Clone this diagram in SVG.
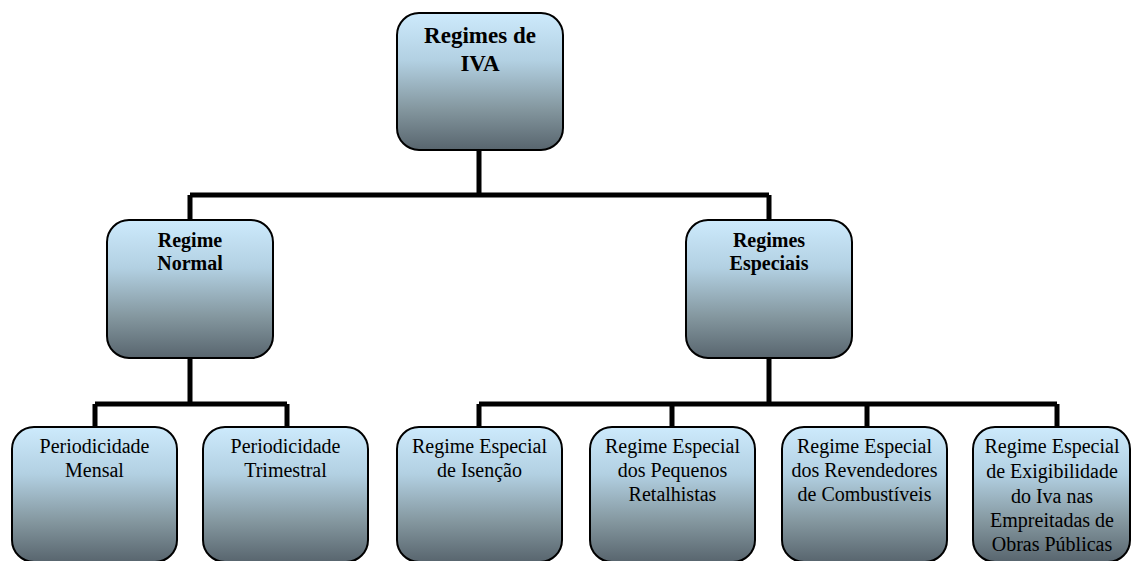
<svg xmlns="http://www.w3.org/2000/svg" width="1132" height="561" viewBox="0 0 1132 561">
<defs>
<linearGradient id="g" x1="0" y1="0" x2="0" y2="1">
<stop offset="0" stop-color="#cdeafc"/>
<stop offset="0.35" stop-color="#b2d0e2"/>
<stop offset="0.7" stop-color="#84979f"/>
<stop offset="1" stop-color="#58656e"/>
</linearGradient>
<style>
.n{fill:url(#g);stroke:#000;stroke-width:2}
.c{fill:none;stroke:#000;stroke-width:5}
text{text-anchor:middle;fill:#000}
.b{font-weight:bold}
.t{font-size:23px}
.m{font-size:20px}
.s{font-size:20px}
</style>
</defs>
<rect width="1132" height="561" fill="#fff"/>
<g id="connectors">
<path class="c" d="M479,150V195M190,195H769M190,195V220M769,195V220"/>
<path class="c" d="M190,358V404M95,404H287M95,404V427M287,404V427"/>
<path class="c" d="M769,358V404M479,404H1057M479,404V427M672,404V427M867,404V427M1057,404V427"/>
</g>
<g font-family="'Liberation Serif', 'DejaVu Serif', serif">
<g id="root">
<rect class="n" x="397" y="13" width="166" height="137" rx="22"/>
<text class="b t" x="480" y="43">Regimes de</text>
<text class="b t" x="480" y="71">IVA</text>
</g>
<g id="normal">
<rect class="n" x="107" y="220" width="166" height="138" rx="22"/>
<text class="b m" x="190" y="247">Regime</text>
<text class="b m" x="190" y="270">Normal</text>
</g>
<g id="especiais">
<rect class="n" x="686" y="220" width="166" height="138" rx="22"/>
<text class="b m" x="769" y="247">Regimes</text>
<text class="b m" x="769" y="270">Especiais</text>
</g>
<g id="mensal">
<rect class="n" x="12" y="427" width="165" height="135" rx="22"/>
<text class="s" x="94.5" y="453">Periodicidade</text>
<text class="s" x="94.5" y="477">Mensal</text>
</g>
<g id="trimestral">
<rect class="n" x="203" y="427" width="165" height="135" rx="22"/>
<text class="s" x="285.5" y="453">Periodicidade</text>
<text class="s" x="285.5" y="477">Trimestral</text>
</g>
<g id="isencao">
<rect class="n" x="397" y="427" width="165" height="135" rx="22"/>
<text class="s" x="479.5" y="453">Regime Especial</text>
<text class="s" x="479.5" y="477">de Isenção</text>
</g>
<g id="retalhistas">
<rect class="n" x="590" y="427" width="165" height="135" rx="22"/>
<text class="s" x="672.5" y="453">Regime Especial</text>
<text class="s" x="672.5" y="477">dos Pequenos</text>
<text class="s" x="672.5" y="501">Retalhistas</text>
</g>
<g id="combustiveis">
<rect class="n" x="782" y="427" width="165" height="135" rx="22"/>
<text class="s" x="864.5" y="453">Regime Especial</text>
<text class="s" x="864.5" y="477">dos Revendedores</text>
<text class="s" x="864.5" y="501">de Combustíveis</text>
</g>
<g id="empreitadas">
<rect class="n" x="973" y="427" width="157" height="135" rx="22"/>
<text class="s" x="1052" y="453">Regime Especial</text>
<text class="s" x="1052" y="478">de Exigibilidade</text>
<text class="s" x="1052" y="503">do Iva nas</text>
<text class="s" x="1052" y="527">Empreitadas de</text>
<text class="s" x="1052" y="551">Obras Públicas</text>
</g>
</g>
</svg>
